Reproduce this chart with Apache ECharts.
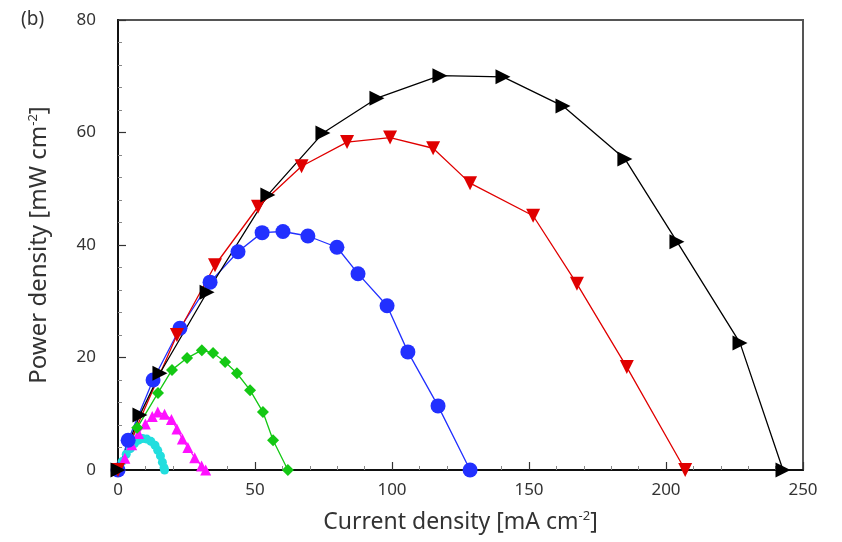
<!DOCTYPE html>
<html><head><meta charset="utf-8">
<script src="https://cdn.jsdelivr.net/npm/echarts@6/dist/echarts.min.js"></script>
<style>html,body{margin:0;padding:0;background:#fff}#c{width:842px;height:542px}</style>
</head><body><div id="c"></div>
<script>
// Data
const blackX = [0, 8.0, 15.3, 32.5, 54.7, 74.8, 94.5, 117.5, 140.5, 162.4, 185, 204, 227, 242.7];
const blackY = [0, 9.8, 17.2, 31.6, 48.9, 59.9, 66.1, 70.1, 69.9, 64.7, 55.3, 40.6, 22.6, 0];
const redX = [0, 21.5, 35.4, 51.1, 67, 83.6, 99.3, 115, 128.5, 151.5, 167.5, 185.7, 207];
const redY = [0, 24.0, 36.4, 46.8, 54.0, 58.3, 59.1, 57.2, 51.0, 45.2, 33.1, 18.3, 0];
const blueX = [0, 3.7, 12.8, 22.6, 33.6, 43.8, 52.6, 60.2, 69.3, 79.9, 87.6, 98.2, 105.8, 116.8, 128.5];
const blueY = [0, 5.3, 16.0, 25.2, 33.4, 38.8, 42.2, 42.4, 41.6, 39.6, 34.9, 29.2, 21.0, 11.4, 0];
const greenX = [0, 7, 14.6, 19.7, 25.2, 30.6, 34.7, 39.1, 43.4, 48.2, 52.9, 56.6, 62];
const greenY = [0, 7.5, 13.7, 17.8, 19.9, 21.3, 20.8, 19.2, 17.2, 14.2, 10.3, 5.3, 0];
const magentaX = [0, 2.5, 5, 7.5, 10, 12.5, 14.5, 17, 19.5, 21.5, 23.5, 25.5, 28, 30.5, 32];
const magentaY = [0, 2.1, 4.5, 6.5, 8.2, 9.5, 10.3, 9.9, 9.0, 7.3, 5.5, 4.0, 2.2, 0.7, 0];
const cyanX = [0, 1.5, 3, 4.5, 6, 7.5, 9, 10.5, 12, 13.5, 14.5, 15.5, 16.2, 16.8, 17];
const cyanY = [0, 1.5, 2.8, 3.8, 4.7, 5.3, 5.6, 5.5, 5.1, 4.4, 3.5, 2.5, 1.4, 0.4, 0];
const xTicks = [0, 50, 100, 150, 200, 250];
const yTicks = [0, 20, 40, 60, 80];

const zip = (xs, ys) => xs.map((x, i) => [x, ys[i]]);
const FONT = 'Noto Sans';
const chart = echarts.init(document.getElementById('c'), null, {renderer: 'canvas'});

function mk(name, xs, ys, color, symbol, size, rot, lw) {
  return {
    name, type: 'line', data: zip(xs, ys), symbol, symbolSize: size, symbolRotate: rot,
    lineStyle: {color, width: lw || 1.3}, itemStyle: {color}, showSymbol: true, animation: false
  };
}
const rich = (fs) => ({a: {fontFamily: FONT, fontSize: fs, color: '#333'}, s: {fontFamily: FONT, fontSize: 13, color: '#333', verticalAlign: 'top', padding: [0, 0, 12, 0]}});

chart.setOption({
  animation: false,
  backgroundColor: '#fff',
  grid: {left: 118, right: 39, top: 20, bottom: 72, show: true, borderColor: '#555', borderWidth: 2},
  graphic: [{type: 'text', left: 21, top: 10, style: {text: '(b)', font: '19px ' + FONT, fill: '#333'}}],
  xAxis: {
    type: 'value', min: xTicks[0], max: xTicks[xTicks.length - 1], interval: 50,
    name: '{a|Current density [mA cm}{s|-2}{a|]}', nameLocation: 'middle', nameGap: 40,
    nameTextStyle: {rich: rich(23)},
    axisLine: {lineStyle: {color: '#111', width: 2}},
    axisTick: {inside: true, length: 8, lineStyle: {color: '#333', width: 1.2}},
    minorTick: {show: true, splitNumber: 5, length: 4, lineStyle: {color: '#888'}},
    splitLine: {show: false},
    axisLabel: {fontFamily: FONT, fontSize: 17, color: '#333', margin: 12}
  },
  yAxis: {
    type: 'value', min: yTicks[0], max: yTicks[yTicks.length - 1], interval: 20,
    name: '{a|Power density [mW cm}{s|-2}{a|]}', nameLocation: 'middle', nameGap: 66, nameRotate: 90,
    nameTextStyle: {rich: rich(24)},
    axisLine: {show: true, lineStyle: {color: '#111', width: 2}},
    axisTick: {show: true, inside: true, length: 8, lineStyle: {color: '#333', width: 1.2}},
    minorTick: {show: true, splitNumber: 5, length: 4, lineStyle: {color: '#888'}},
    splitLine: {show: false},
    axisLabel: {fontFamily: FONT, fontSize: 17, color: '#333', margin: 22}
  },
  series: [
    mk('cyan', cyanX, cyanY, '#22dede', 'circle', 9),
    mk('magenta', magentaX, magentaY, '#ff10ff', 'triangle', 11, 0),
    mk('green', greenX, greenY, '#14c814', 'diamond', 12),
    mk('blue', blueX, blueY, '#2230ff', 'circle', 15),
    mk('red', redX, redY, '#e00000', 'triangle', 14, 180),
    mk('black', blackX, blackY, '#000000', 'triangle', 15, -90)
  ]
});
</script></body></html>
